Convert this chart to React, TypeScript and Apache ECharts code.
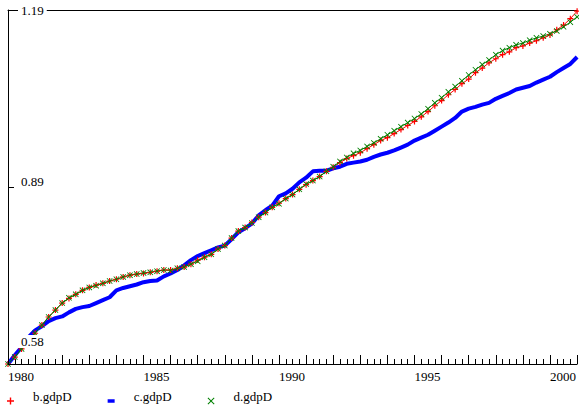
import React, { useEffect, useRef } from "react";
import * as echarts from "echarts";

const startYear = 1980;
const seriesNames = ["b.gdpD", "c.gdpD", "d.gdpD"];
const seriesColors = ["#ff0000", "#0000ff", "#008000"];

const bGdpD = [
  0.580, 0.592, 0.606, 0.620, 0.633, 0.647, 0.661, 0.673,
  0.685, 0.693, 0.700, 0.707, 0.712, 0.716, 0.719, 0.723,
  0.726, 0.730, 0.733, 0.735, 0.736, 0.738, 0.740, 0.742,
  0.742, 0.745, 0.747, 0.752, 0.759, 0.764, 0.769, 0.778,
  0.784, 0.797, 0.809, 0.815, 0.824, 0.833, 0.841, 0.850,
  0.857, 0.865, 0.872, 0.881, 0.889, 0.896, 0.903, 0.912,
  0.919, 0.927, 0.934, 0.939, 0.944, 0.951, 0.958, 0.965,
  0.970, 0.977, 0.984, 0.991, 0.998, 1.006, 1.015, 1.025,
  1.034, 1.044, 1.053, 1.063, 1.071, 1.082, 1.090, 1.099,
  1.106, 1.113, 1.118, 1.125, 1.128, 1.133, 1.137, 1.142,
  1.147, 1.156, 1.164, 1.175, 1.188,
];

const cGdpD = [
  0.580, 0.595, 0.609, 0.626, 0.638, 0.645, 0.654, 0.659,
  0.662, 0.669, 0.675, 0.678, 0.680, 0.685, 0.690, 0.695,
  0.707, 0.711, 0.714, 0.717, 0.721, 0.723, 0.724, 0.731,
  0.736, 0.742, 0.750, 0.759, 0.766, 0.771, 0.776, 0.781,
  0.784, 0.795, 0.807, 0.814, 0.822, 0.836, 0.845, 0.853,
  0.869, 0.874, 0.882, 0.893, 0.901, 0.912, 0.913, 0.913,
  0.917, 0.920, 0.925, 0.927, 0.929, 0.932, 0.937, 0.941,
  0.944, 0.948, 0.953, 0.958, 0.965, 0.970, 0.975, 0.982,
  0.989, 0.996, 1.004, 1.015, 1.020, 1.023, 1.027, 1.030,
  1.037, 1.042, 1.047, 1.053, 1.056, 1.059, 1.065, 1.070,
  1.075, 1.083, 1.090, 1.097, 1.109,
];

const dGdpD = [
  0.580, 0.592, 0.606, 0.620, 0.633, 0.647, 0.661, 0.673,
  0.685, 0.694, 0.700, 0.707, 0.712, 0.715, 0.719, 0.723,
  0.726, 0.730, 0.733, 0.735, 0.737, 0.738, 0.740, 0.742,
  0.741, 0.745, 0.747, 0.752, 0.757, 0.764, 0.769, 0.778,
  0.784, 0.797, 0.809, 0.815, 0.823, 0.833, 0.841, 0.850,
  0.856, 0.865, 0.872, 0.881, 0.890, 0.896, 0.903, 0.912,
  0.920, 0.929, 0.936, 0.943, 0.948, 0.955, 0.961, 0.968,
  0.975, 0.982, 0.989, 0.996, 1.003, 1.011, 1.020, 1.030,
  1.039, 1.049, 1.058, 1.068, 1.078, 1.087, 1.096, 1.104,
  1.113, 1.120, 1.125, 1.130, 1.133, 1.138, 1.142, 1.145,
  1.149, 1.154, 1.161, 1.169, 1.178,
];

const xLabelYears = [1980, 1985, 1990, 1995, 2000];
const yTickValues = [0.58, 0.885, 1.19];
const yTickLabels = ["0.58", "0.89", "1.19"];

const PLUS = "path://M4,0 L6,0 L6,4 L10,4 L10,6 L6,6 L6,10 L4,10 L4,6 L0,6 L0,4 L4,4 Z";
const CROSS = "path://M0,1 L1,0 L5,4 L9,0 L10,1 L6,5 L10,9 L9,10 L5,6 L1,10 L0,9 L4,5 Z";
const DASH = "path://M0,0 L8,0 L8,4 L0,4 Z";

const FONT = "Liberation Serif";

function toPoints(vals: number[]) {
  return vals.map((v, i) => [startYear + i / 4, v]);
}

export default function App() {
  const ref = useRef<HTMLDivElement>(null);
  useEffect(() => {
    document.body.style.margin = "0";
    const chart = echarts.init(ref.current!, null, { renderer: "svg" });
    const labelPad = [0, 11, 45];
    chart.setOption({
      animation: false,
      backgroundColor: "#fff",
      textStyle: { fontFamily: FONT, color: "#000" },
      grid: { left: 8, right: 1, top: 10, height: 354 },
      legend: {
        left: 7,
        top: 390,
        padding: 0,
        itemWidth: 7,
        itemHeight: 7,
        itemGap: 36,
        selectedMode: false,
        formatter: (name: string) => `{t|${name}}\n{s| }`,
        textStyle: {
          fontFamily: FONT,
          fontSize: 13,
          color: "#000",
          padding: [0, 0, 0, 14],
          rich: {
            t: { fontFamily: FONT, fontSize: 13, color: "#000", lineHeight: 15 },
            s: { fontSize: 2, lineHeight: 9 },
          },
        },
        data: [
          { name: seriesNames[0], icon: PLUS },
          { name: seriesNames[1], icon: DASH },
          { name: seriesNames[2], icon: CROSS },
        ],
      },
      xAxis: [
        {
          type: "value",
          min: 1980,
          max: 2001,
          interval: 1,
          axisLine: { show: true, lineStyle: { color: "#000", width: 1 } },
          axisTick: { show: true, inside: true, length: 9, lineStyle: { color: "#000" } },
          minorTick: { show: true, splitNumber: 4, length: 5, lineStyle: { color: "#000" } },
          splitLine: { show: false },
          axisLabel: {
            customValues: xLabelYears,
            align: "left",
            margin: 6,
            fontFamily: FONT,
            fontSize: 13,
            color: "#000",
            formatter: (v: number) => String(v),
          },
        },
        {
          type: "value",
          position: "top",
          min: 1980,
          max: 2001,
          axisLine: { show: true, lineStyle: { color: "#000", width: 1 } },
          axisTick: { show: false },
          axisLabel: { show: false },
          splitLine: { show: false },
        },
      ],
      yAxis: {
        type: "value",
        min: 0.58,
        max: 1.19,
        z: 10,
        axisLine: { show: true, lineStyle: { color: "#000", width: 1 } },
        axisTick: {
          show: true,
          inside: true,
          length: 6,
          customValues: yTickValues,
          lineStyle: { color: "#000" },
        },
        splitLine: { show: false },
        axisLabel: {
          inside: true,
          customValues: yTickValues,
          margin: 10,
          color: "#000",
          fontFamily: FONT,
          fontSize: 13,
          verticalAlign: "middle",
          formatter: (v: number) => {
            const idx = yTickValues.findIndex((t) => Math.abs(t - v) < 1e-6);
            const text = idx >= 0 ? yTickLabels[idx] : "";
            if (idx === 2) return `{lbl|${text}}`;
            const sp = idx === 0 ? "sp0" : "sp1";
            return `{lbl|${text}}\n{${sp}| }`;
          },
          rich: {
            lbl: {
              fontFamily: FONT,
              fontSize: 13,
              color: "#000",
              backgroundColor: "#fff",
              padding: [0, 3, 0, 3],
              lineHeight: 15,
            },
            sp0: { fontSize: 2, lineHeight: labelPad[2] },
            sp1: { fontSize: 2, lineHeight: labelPad[1] },
          },
        },
      },
      series: [
        {
          name: seriesNames[0],
          type: "line",
          data: toPoints(bGdpD),
          color: seriesColors[0],
          symbol: PLUS,
          symbolSize: 6,
          showAllSymbol: true,
          lineStyle: { width: 1, color: seriesColors[0] },
          itemStyle: { color: seriesColors[0] },
        },
        {
          name: seriesNames[1],
          type: "line",
          data: toPoints(cGdpD),
          color: seriesColors[1],
          symbol: "none",
          lineStyle: { width: 4, color: seriesColors[1] },
          itemStyle: { color: seriesColors[1] },
        },
        {
          name: seriesNames[2],
          type: "line",
          data: toPoints(dGdpD),
          color: seriesColors[2],
          symbol: CROSS,
          symbolSize: 6,
          showAllSymbol: true,
          lineStyle: { width: 1, color: seriesColors[2] },
          itemStyle: { color: seriesColors[2] },
        },
      ],
    });
    return () => chart.dispose();
  }, []);
  return <div ref={ref} style={{ width: 579, height: 411 }} />;
}
